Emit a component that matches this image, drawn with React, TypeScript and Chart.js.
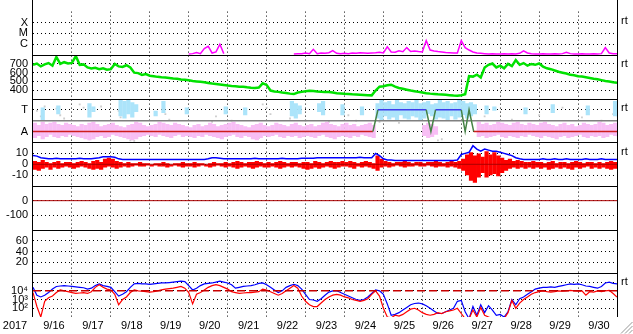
import { useEffect, useRef } from 'react';
import { Chart, registerables } from 'chart.js';
Chart.register(...registerables);

// time axis: days since 2017-09-15 00:00, one value every STEP days
const STEP = 0.1;
const X_LABELS = ['2017', '9/16', '9/17', '9/18', '9/19', '9/20', '9/21', '9/22', '9/23', '9/24', '9/25', '9/26', '9/27', '9/28', '9/29', '9/30'];

// panel 1: X-ray flux (W/m2), null = below plot range
const XRAY = [
  null, null, null, null, null, null, null, 1.3e-7, null, null,
  null, null, null, null, null, null, null, null, null, null,
  null, null, null, null, null, null, null, null, null, null,
  null, null, null, null, null, null, null, null, null, null,
  1.3e-7, 1.4e-7, 1.8e-7, 1.4e-7, 4e-7, 6.5e-7, 1.6e-7, 2e-7, 1e-6, 1.4e-7,
  null, null, null, null, null, null, null, null, null, null,
  null, null, null, null, null, null, null, 1.3e-7, 1.4e-7, 1.4e-7,
  1.6e-7, 1.4e-7, 3.5e-7, 1.4e-7, 1.6e-7, 1.5e-7, 1.7e-7, 2.6e-7, 1.5e-7, 1.4e-7,
  1.5e-7, 1.4e-7, 1.6e-7, 1.5e-7, 1.7e-7, 1.6e-7, 1.5e-7, 1.6e-7, 1.7e-7, 1.9e-7,
  1.6e-7, 6e-7, 2e-7, 1.9e-7, 2.5e-7, 2.1e-7, 5e-7, 2.2e-7, 2.5e-7, 2.2e-7,
  2e-7, 2.2e-6, 3e-7, 2.5e-7, 2.2e-7, 2e-7, 1.8e-7, 1.7e-7, 1.6e-7, 1.6e-7,
  2.2e-6, 5e-7, 3e-7, 2e-7, 1.6e-7, 1.5e-7, 1.4e-7, 1.3e-7, 1.4e-7, 1.3e-7,
  1.3e-7, 1.4e-7, 1.3e-7, 1.4e-7, 1.3e-7, 1.5e-7, 2.5e-7, 1.6e-7, 1.4e-7, 1.3e-7,
  1.3e-7, 1.4e-7, 1.3e-7, 1.3e-7, 1.4e-7, 1.3e-7, 1.4e-7, 1.9e-7, 1.4e-7, 1.3e-7,
  1.3e-7, 1.4e-7, 1.3e-7, 1.3e-7, 1.4e-7, 1.3e-7, 1.4e-7, 5e-7, 1.6e-7, 1.4e-7,
  1.4e-7,
];

// panel 2: solar wind speed (km/s)
const SPEED = [
  690, 705, 672, 695, 710, 680, 780, 700, 720, 705,
  712, 790, 690, 695, 660, 648, 655, 640, 650, 635,
  640, 700, 672, 665, 685, 660, 600, 595, 575, 585,
  565, 560, 552, 548, 545, 538, 532, 530, 522, 518,
  512, 505, 500, 495, 490, 482, 475, 470, 465, 458,
  452, 448, 445, 440, 438, 432, 428, 425, 430, 478,
  460, 395, 385, 380, 372, 368, 360, 355, 372, 380,
  388, 392, 390, 385, 382, 380, 378, 372, 365, 362,
  358, 355, 352, 350, 348, 345, 342, 340, 395, 440,
  445, 455, 462, 440, 425, 415, 405, 395, 388, 380,
  372, 365, 360, 356, 352, 350, 346, 342, 338, 335,
  342, 352, 560, 555, 578, 545, 660, 690, 705, 660,
  680, 650, 700, 675, 745, 690, 710, 680, 700, 690,
  705, 670, 650, 640, 625, 610, 600, 590, 575, 570,
  560, 555, 548, 540, 530, 525, 515, 505, 500, 490,
  485,
];

// panel 3: IMF sector (1 = Away, 3 = Toward)
const SECTOR_DAY = [0, 8.73, 8.86, 10.1, 10.22, 10.34, 11.0, 11.1, 11.2, 11.32, 15];
const SECTOR_LVL = [1, 1, 3, 3, 1, 3, 3, 1, 3, 1, 1];
const AWAY_HI = [
  1.8, 1.6, 1.9, 1.7, 1.8, 1.9, 1.7, 1.6, 1.8, 1.7,
  1.6, 1.5, 1.7, 1.6, 1.8, 1.9, 1.7, 1.5, 1.6, 1.7,
  1.8, 1.6, 1.5, 1.4, 1.6, 1.7, 1.9, 1.8, 1.6, 1.5,
  1.6, 1.7, 1.9, 1.8, 1.7, 1.6, 1.8, 1.7, 1.6, 1.5,
  1.4, 1.6, 1.7, 1.5, 1.6, 1.8, 1.7, 1.5, 1.6, 1.7,
  1.8, 1.9, 1.7, 1.6, 1.5, 1.4, 1.6, 1.7, 1.8, 1.6,
  1.5, 1.6, 1.8, 1.7, 1.6, 1.5, 1.7, 1.8, 1.6, 1.5,
  1.6, 1.7, 1.5, 1.6, 1.8, 1.9, 1.7, 1.6, 1.5, 1.7,
  1.8, 1.6, 1.7, 1.5, 1.6, 1.7, 1.8, 1.6, null, null,
  null, null, null, null, null, null, null, null, null, null,
  1.6, 1.8, 1.7, 1.5, null, null, null, null, null, null,
  null, null, null, null, 1.9, 1.7, 1.8, 1.6, 1.7, 1.9,
  1.8, 1.7, 1.6, 1.8, 1.9, 1.7, 1.6, 1.8, 1.7, 1.6,
  1.8, 1.9, 1.7, 1.6, 1.5, 1.7, 1.8, 1.6, 1.7, 1.5,
  1.6, 1.8, 1.7, 1.6, 1.7, 1.9, 1.8, 1.6, 1.7, 1.8,
  1.9,
];
const AWAY_LO = [
  0.4, 0.6, 0.3, 0.5, 0.7, 0.5, 0.4, 0.6, 0.5, 0.7,
  0.6, 0.5, 0.4, 0.3, 0.2, 0.3, 0.5, 0.6, 0.4, 0.5,
  0.7, 0.6, 0.5, 0.4, 0.3, 0.2, 0.3, 0.5, 0.6, 0.7,
  0.6, 0.5, 0.7, 0.6, 0.5, 0.4, 0.6, 0.7, 0.5, 0.6,
  0.5, 0.4, 0.6, 0.5, 0.7, 0.6, 0.5, 0.4, 0.3, 0.5,
  0.6, 0.7, 0.5, 0.4, 0.6, 0.5, 0.3, 0.2, 0.4, 0.6,
  0.5, 0.6, 0.7, 0.5, 0.4, 0.6, 0.5, 0.6, 0.4, 0.5,
  0.6, 0.5, 0.4, 0.6, 0.7, 0.5, 0.4, 0.3, 0.5, 0.6,
  0.5, 0.4, 0.6, 0.5, 0.7, 0.6, 0.5, 0.4, null, null,
  null, null, null, null, null, null, null, null, null, null,
  0.6, 0.4, 0.5, 0.7, null, null, null, null, null, null,
  null, null, null, null, 0.5, 0.6, 0.4, 0.5, 0.6, 0.7,
  0.5, 0.4, 0.6, 0.5, 0.4, 0.6, 0.5, 0.7, 0.6, 0.5,
  0.4, 0.6, 0.5, 0.4, 0.3, 0.5, 0.6, 0.4, 0.5, 0.6,
  0.7, 0.5, 0.4, 0.6, 0.5, 0.6, 0.4, 0.5, 0.7, 0.6,
  0.5,
];
const TOWARD_BIN = [2, 6, 14, 15, 22, 23, 24, 25, 26, 31, 33, 39, 49, 54, 66, 67, 68, 73, 74, 79, 84,
  88, 89, 90, 91, 92, 93, 94, 95, 96, 97, 98, 99, 100, 101, 102, 103, 104, 105, 106, 107, 108, 109, 110, 111, 112, 113,
  116, 118, 126, 133, 142, 149, 150];
const TOWARD_LO = [2.0, 2.6, 2.3, 2.8, 2.4, 2.2, 2.6, 2.3, 2.8, 2.4, 2.7, 2.6, 2.6, 2.5, 2.4, 2.2, 2.6, 2.8, 2.5, 2.5, 2.5,
  2.2, 2.0, 2.4, 2.1, 2.3, 2.0, 2.5, 2.2, 2.1, 2.4, 2.3, 2.0, 2.2, 2.6, 2.4, 2.1, 2.3, 2.2, 2.0, 2.4, 2.1, 2.3, 2.5, 2.2, 2.4, 2.6,
  2.6, 2.9, 2.6, 2.7, 2.5, 2.4, 2.3];
const TOWARD_HI = [3.2, 3.4, 3.6, 3.3, 3.9, 3.8, 3.9, 3.7, 3.5, 2.9, 3.8, 3.2, 3.3, 3.2, 3.8, 3.6, 3.4, 3.6, 3.8, 3.5, 3.3,
  3.6, 3.9, 3.7, 3.8, 3.5, 3.9, 3.7, 3.6, 3.8, 3.7, 3.9, 3.6, 3.7, 3.8, 3.5, 3.6, 3.9, 3.7, 3.8, 3.6, 3.7, 3.9, 3.8, 3.6, 3.7, 3.5,
  3.4, 3.3, 3.2, 3.5, 3.4, 3.8, 3.9];
const UNSURE_DAY = [0.1, 0.2, 0.3, 0.6, 0.7, 0.8, 1.2, 1.3, 1.45, 1.75, 2.2, 2.25, 2.5, 2.55, 2.6, 3.4, 3.5, 4.6, 4.7, 5.1,
  5.8, 5.9, 6.0, 6.1, 6.6, 7.0, 7.6, 8.1, 8.3, 8.9, 9.4, 10.0, 10.4, 10.5, 11.2, 11.6, 12.3, 13.0, 13.6, 14.1, 14.6, 14.9];
const UNSURE_LVL = [2.9, 2.4, 3.3, 3.1, 2.5, 2.2, 3.5, 3.2, 0.3, 3.3, 2.9, 2.3, 0.2, 0.3, 0.15, 2.6, 2.1, 1.9, 2.4, 2.0,
  0.4, 3.5, 3.2, 2.6, 2.2, 2.0, 1.9, 2.5, 2.0, 1.9, 1.8, 2.3, 0.2, 0.3, 2.0, 2.4, 2.1, 2.5, 3.2, 2.3, 2.0, 2.6];

// panel 4: IMF Bt and Bz (nT); Bz as per-bin range
const BT = [
  8, 7.5, 6, 5.5, 5, 5, 5.5, 5, 5, 5,
  5, 5, 5.5, 5, 5, 5, 5.5, 6, 7, 7,
  7, 6.5, 5, 4.5, 4.5, 4.5, 4.5, 4.5, 4.5, 4.5,
  4.5, 4.5, 4.5, 4.5, 4.5, 4.5, 4.5, 4.5, 4.5, 4.5,
  4.5, 4.5, 4.5, 4.5, 4.5, 5, 6, 6, 5.5, 5,
  5, 5, 5, 5, 5, 5, 5, 5.5, 5, 5,
  5, 5, 5, 5, 5.5, 5, 5, 5, 5, 5.5,
  5.5, 5.5, 5.5, 6, 6, 6, 6, 6, 6, 6,
  6, 6, 6, 6, 6.5, 6, 6, 6, 10, 8,
  5, 4, 4, 3.5, 3.5, 3.5, 3.5, 3.5, 3.5, 3.5,
  3.5, 3.5, 3.5, 3.5, 3.5, 3.5, 3.5, 3.5, 3.5, 4,
  9, 10, 11, 17, 14, 12, 14, 13, 12, 12,
  11, 10, 9, 8, 6, 5, 4.5, 4.5, 4.5, 4.5,
  4.5, 5, 4.5, 4.5, 5, 4.5, 4.5, 5, 4.5, 4.5,
  4.5, 4.5, 5, 4.5, 4.5, 4.5, 5, 4.5, 4.5, 4.5,
  4.5,
];
const BZ_HI = [
  3, 2, 4, 2, 1, 2, 3, 1, 2, 2,
  1, 2, 3, 2, 1, 3, 4, 2, 5, 6,
  5, 3, 2, 1, 2, 1, 1, 2, 1, 1,
  0, 1, 1, 2, 1, 0, 1, 1, 2, 1,
  1, 2, 1, 1, 0, 1, 2, 1, 1, 2,
  1, 2, 3, 2, 1, 2, 2, 3, 2, 1,
  2, 1, 2, 3, 2, 1, 2, 2, 1, 2,
  2, 1, 3, 2, 1, 2, 3, 2, 2, 3,
  2, 3, 2, 1, 2, 3, 2, 1, 8, 5,
  3, 2, 1, 2, 2, 3, 2, 1, 2, 2,
  1, 2, 2, 3, 2, 1, 2, 3, 2, 3,
  5, 9, 11, 8, 10, 7, 12, 9, 11, 8,
  6, 4, 5, 3, 4, 3, 2, 2, 3, 2,
  2, 1, 2, 3, 1, 2, 2, 1, 2, 3,
  2, 1, 2, 2, 1, 2, 1, 2, 3, 2,
  1,
];
const BZ_LO = [
  -5, -6, -4, -3, -5, -3, -4, -3, -2, -3,
  -4, -3, -2, -3, -4, -5, -4, -5, -3, -2,
  -3, -4, -3, -2, -3, -2, -1, -2, -2, -1,
  -2, -1, -2, -2, -3, -2, -1, -2, -3, -2,
  -2, -3, -2, -1, -2, -3, -2, -1, -2, -3,
  -2, -3, -4, -3, -2, -3, -4, -3, -2, -3,
  -3, -2, -3, -4, -3, -2, -3, -2, -3, -4,
  -5, -4, -3, -4, -3, -2, -3, -4, -3, -2,
  -2, -3, -4, -2, -3, -2, -3, -4, -6, -3,
  -2, -3, -2, -1, -2, -3, -2, -2, -1, -2,
  -2, -1, -2, -3, -2, -2, -3, -2, -3, -4,
  -6, -10, -15, -17, -12, -8, -12, -10, -9, -11,
  -8, -6, -4, -3, -4, -3, -4, -3, -4, -3,
  -4, -3, -5, -4, -3, -4, -3, -4, -5, -3,
  -4, -3, -2, -4, -3, -4, -3, -4, -5, -4,
  -3,
];

// panel 7: electron flux, log10 values (blue, red)
const ELEC_BLUE_LOG = [
  4.4, 3.5, 3.3, 3.5, 3.8, 4.2, 4.5, 4.55, 4.6, 4.55,
  4.5, 4.45, 4.4, 4.35, 4.2, 4.3, 4.6, 4.8, 4.6, 4.5,
  4.4, 3.9, 3.4, 3.6, 3.9, 4.4, 4.8, 4.85, 4.8, 4.8,
  4.75, 4.8, 4.85, 4.9, 4.9, 4.95, 5.0, 5.05, 5.1, 5.05,
  4.6, 4.1, 4.3, 4.6, 4.8, 4.85, 4.9, 5.0, 5.1, 5.0,
  4.9, 4.7, 4.3, 4.4, 4.5, 4.55, 4.6, 4.7, 4.85, 4.9,
  4.7, 4.4, 4.1, 3.8, 4.0, 4.4, 4.6, 4.75, 4.6, 4.2,
  3.6, 3.0, 2.95, 2.8, 3.1, 3.5, 3.85, 4.0, 4.0, 3.8,
  3.6, 3.4, 3.2, 3.0, 2.9, 3.0, 3.3, 3.7, 4.1, 4.0,
  3.6, 2.5, 1.2, 1.3, 1.5, 1.8, 2.1, 2.4, 2.55, 2.6,
  2.5, 2.3, 2.0, 1.7, 1.4, 1.4, 1.6, 1.8, 2.0, 2.8,
  2.9, 1.6, 0.8, 2.2, 1.2, 2.4, 1.5, 2.3, 1.8, 1.2,
  1.3, 1.0, 1.6, 3.0, 2.4, 3.1, 3.3, 3.6, 3.9, 4.2,
  4.3, 4.4, 4.4, 4.45, 4.4, 4.5, 4.6, 4.7, 4.8, 4.75,
  4.8, 4.7, 4.55, 4.5, 4.4, 4.3, 4.5, 4.9, 5.0, 4.85,
  4.8,
];
const ELEC_RED_LOG = [
  3.8, 2.2, 1.0, 2.8, 3.2, 3.4, 3.8, 4.1, 4.0, 3.9,
  3.8, 3.7, 3.75, 3.8, 3.7, 3.9, 4.4, 4.7, 4.4, 4.2,
  4.1, 3.6, 2.4, 3.0, 3.3, 3.8, 4.1, 4.0, 3.95, 3.9,
  3.85, 3.9, 4.0, 4.1, 4.2, 4.25, 4.3, 4.4, 4.5, 4.3,
  3.8, 2.5, 3.6, 3.8, 4.1, 4.4, 4.6, 4.7, 4.6, 4.4,
  4.2, 3.9, 3.8, 3.7, 3.75, 3.8, 3.8, 3.85, 3.9, 4.2,
  4.1, 3.9, 3.7, 3.5, 3.7, 4.0, 4.3, 4.6, 4.3, 3.4,
  2.8, 2.4, 2.2, 2.2, 2.6, 3.0, 3.3, 3.5, 3.6, 3.5,
  3.3, 3.2, 3.0, 2.9, 2.8, 2.9, 3.1, 3.6, 4.0, 3.4,
  2.0, 1.0, 0.9, 1.2, 1.1, 1.3, 1.6, 1.9, 2.0, 1.8,
  1.5, 1.3, 1.2, 1.3, 1.5, 1.4, 1.6, 1.7, 1.8, 2.0,
  1.4, 0.8, 0.8, 1.8, 1.0, 2.1, 1.2, 1.0, 0.8, 0.8,
  0.9, 0.8, 1.5, 2.9, 2.0, 2.6, 3.0, 3.3, 3.6, 3.8,
  3.9, 4.0, 3.9, 3.85, 3.9, 4.0, 3.95, 4.0, 4.05, 4.0,
  3.95, 4.0, 3.5, 3.9, 3.85, 4.0, 3.9, 4.0, 4.05, 3.7,
  3.3,
];
const ELEC_ALERT = 1e4;

// axis tick values and labels
const XRAY_TICKS = [1e-6, 1e-5, 1e-4];
const XRAY_LABELS = ['C', 'M', 'X'];
const SPEED_TICKS = [400, 500, 600, 700];
const SECTOR_TICKS = [1, 3];
const SECTOR_LABELS = ['A', 'T'];
const IMF_TICKS = [-10, 0, 10];
const DST_TICKS = [-100, 0];
const KP_TICKS = [20, 40, 60];
const ELEC_TICKS = [1e2, 1e3, 1e4, 1e5];
const ELEC_LABELS = ['10²', '10³', '10⁴', ''];
const RT_PANELS = ['y1', 'y2', 'y3', 'y4', 'y7'];

const FONT = { family: '"Liberation Sans", Arial, sans-serif', size: 11 };

const series = (arr: any[]) => arr.map((v, i) => ({ x: i * STEP, y: v }));
const hline = (v: number) => [{ x: 0, y: v }, { x: 15, y: v }];

const yAxis = (weight: number, min: number, max: number, ticks: number[], labels: string[] | null, type = 'linear') => ({
  type, min, max, position: 'left', stack: 'panels', stackWeight: 1, weight,
  afterBuildTicks: (s: any) => { s.ticks = ticks.map((v) => ({ value: v })); },
  afterFit: (s: any) => { s.width = 33; },
  grid: { color: '#000', lineWidth: 1, drawTicks: false },
  border: { display: false, dash: [1, 3] },
  ticks: {
    autoSkip: false, padding: 5, color: '#000', font: FONT,
    callback: (v: any, i: number) => (labels ? labels[i] : String(v)),
  },
});

const line = (yAxisID: string, data: any[], color: string, width = 1, extra: any = {}) => ({
  type: 'line', yAxisID, xAxisID: 'x', data, borderColor: color, backgroundColor: color,
  borderWidth: width, pointRadius: 0, tension: 0, spanGaps: false, clip: 0, fill: false, ...extra,
});

// floating bars: one bar per time bin spanning [lo, hi]
const rangeBars = (yAxisID: string, bins: number[], lo: any[], hi: any[], color: string) => ({
  type: 'bar', yAxisID, xAxisID: 'x', grouped: false,
  data: bins
    .map((b, k) => ({ b, l: lo[k], h: hi[k] }))
    .filter((p) => p.l !== null && p.h !== null)
    .map((p) => ({ x: p.b * STEP + STEP / 2, y: [p.l, p.h] })),
  backgroundColor: color, borderWidth: 0, borderSkipped: false,
  barPercentage: 1.08, categoryPercentage: 1, clip: 0,
});
const allBins = SPEED.map((_, i) => i);

const framePlugin = {
  id: 'frame',
  afterDraw(chart: any) {
    const { ctx, chartArea: a } = chart;
    ctx.save();
    ctx.strokeStyle = '#000';
    ctx.lineWidth = 1;
    ctx.beginPath();
    ctx.moveTo(a.left - 0.5, 0); ctx.lineTo(a.left - 0.5, a.bottom);
    ctx.moveTo(a.right + 0.5, 0); ctx.lineTo(a.right + 0.5, a.bottom);
    ['y1', 'y2', 'y3', 'y4', 'y5', 'y6'].forEach((id) => {
      const y = Math.round(chart.scales[id].bottom) + 0.5;
      ctx.moveTo(a.left, y); ctx.lineTo(a.right, y);
    });
    ctx.stroke();
    ctx.fillStyle = '#000';
    ctx.font = '11px "Liberation Sans", Arial, sans-serif';
    ctx.textBaseline = 'middle';
    ctx.textAlign = 'left';
    RT_PANELS.forEach((id) => ctx.fillText('rt', a.right + 4, chart.scales[id].top + 9));
    // window resize grip
    ctx.strokeStyle = 'rgb(150,150,150)';
    ctx.beginPath();
    [0, 4, 8].forEach((d) => { ctx.moveTo(621 + d, 333.5); ctx.lineTo(632.5, 322 + d); });
    ctx.stroke();
    ctx.restore();
  },
};

export default function App() {
  const ref = useRef<HTMLCanvasElement>(null);
  useEffect(() => {
    if (!ref.current) return;
    const sectorColor = (c: any) => {
      const a = c.p0.parsed.y, b = c.p1.parsed.y;
      if (a === 1 && b === 1) return 'rgb(205,30,30)';
      if (a === 3 && b === 3) return 'rgb(60,60,235)';
      return 'rgb(70,130,70)';
    };
    const chart = new Chart(ref.current, {
      type: 'line',
      data: {
        datasets: [
          line('y1', series(XRAY), 'rgb(255,0,255)', 1.5),
          line('y2', series(SPEED), 'rgb(0,225,0)', 2.5),
          line('y3', SECTOR_DAY.map((d, i) => ({ x: d, y: SECTOR_LVL[i] })), 'rgb(205,30,30)', 1.5, { segment: { borderColor: sectorColor } }),
          line('y3', hline(2), 'rgb(128,128,128)', 1.5),
          rangeBars('y3', TOWARD_BIN, TOWARD_LO, TOWARD_HI, 'rgb(172,228,250)'),
          rangeBars('y3', allBins, AWAY_LO, AWAY_HI, 'rgb(248,190,245)'),
          line('y3', UNSURE_DAY.map((d, i) => ({ x: d, y: UNSURE_LVL[i] })), 'rgb(205,205,205)', 0, { showLine: false, pointRadius: 1.3, pointStyle: 'rect', pointBorderWidth: 0 }),
          line('y4', series(BT), 'rgb(0,0,255)', 1.5),
          line('y4', hline(0), 'rgb(170,0,0)', 1),
          rangeBars('y4', allBins, BZ_LO, BZ_HI, 'rgb(255,0,0)'),
          line('y5', hline(0), 'rgb(170,0,0)', 1),
          line('y7', hline(ELEC_ALERT), 'rgb(200,0,0)', 1.5, { borderDash: [8, 4] }),
          line('y7', series(ELEC_RED_LOG.map((v) => 10 ** v)), 'rgb(255,0,0)', 1.2),
          line('y7', series(ELEC_BLUE_LOG.map((v) => 10 ** v)), 'rgb(0,0,255)', 1.2),
        ] as any,
      },
      options: {
        responsive: false,
        animation: false,
        events: [],
        layout: { padding: { top: 2, right: 16, left: 0, bottom: 0 } },
        plugins: { legend: { display: false }, tooltip: { enabled: false } },
        scales: {
          x: {
            type: 'linear', min: 0, max: 15, position: 'bottom', offset: false,
            afterBuildTicks: (s: any) => { s.ticks = X_LABELS.map((_, i) => ({ value: i })); },
            afterFit: (s: any) => { s.height = 17; },
            grid: {
              color: (c: any) => (c.tick && (c.tick.value === 0 || c.tick.value === 15) ? 'rgba(0,0,0,0)' : '#000'),
              drawTicks: false, offset: false,
            },
            border: { display: false, dash: [1, 3] },
            ticks: {
              autoSkip: false, maxRotation: 0, labelOffset: -18, padding: 2, color: '#000', font: FONT,
              callback: (_v: any, i: number) => X_LABELS[i],
            },
          },
          y1: yAxis(7, 1e-7, 1e-3, XRAY_TICKS, XRAY_LABELS, 'logarithmic'),
          y2: yAxis(6, 300, 800, SPEED_TICKS, null),
          y3: yAxis(5, 0, 4, SECTOR_TICKS, SECTOR_LABELS),
          y4: yAxis(4, -20, 20, IMF_TICKS, null),
          y5: yAxis(3, -200, 100, DST_TICKS, null),
          y6: yAxis(2, 0, 80, KP_TICKS, null),
          y7: yAxis(1, 10, 1e6, ELEC_TICKS, ELEC_LABELS, 'logarithmic'),
        } as any,
      },
      plugins: [framePlugin],
    });
    return () => chart.destroy();
  }, []);
  return (
    <div style={{ position: 'fixed', left: 0, top: 0, width: 633, height: 334, background: '#fff' }}>
      <canvas ref={ref} width={633} height={334} style={{ display: 'block' }} />
    </div>
  );
}
